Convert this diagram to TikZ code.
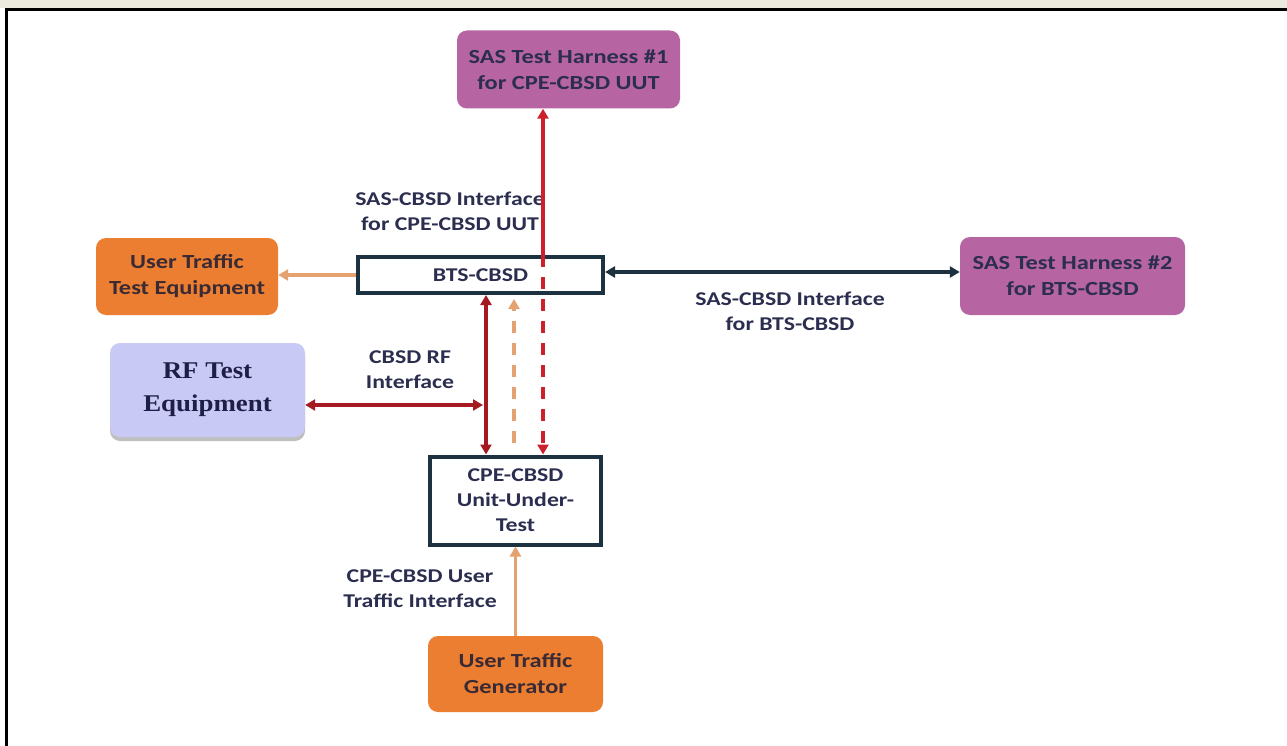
\documentclass[tikz,border=0pt]{standalone}
\usepackage{fontspec}
\usetikzlibrary{arrows.meta,shadows}
\newfontfamily\labfont{Carlito}[FakeStretch=1.22]
\newfontfamily\rffont{Liberation Serif}[FakeStretch=1.12]
\definecolor{purp}{RGB}{182,100,162}
\definecolor{orng}{RGB}{236,126,50}
\definecolor{lorng}{RGB}{228,162,112}
\definecolor{dred}{RGB}{165,26,32}
\definecolor{rred}{RGB}{205,32,45}
\definecolor{navy}{RGB}{28,50,64}
\definecolor{lav}{RGB}{201,201,246}
\definecolor{txt}{RGB}{44,46,80}
\definecolor{beige}{RGB}{236,233,222}
\tikzset{
  lbl/.style={font=\labfont\bfseries\fontsize{19.5}{25}\selectfont, text=txt, align=center},
  rbox/.style={lbl, rounded corners=10pt, draw=none, inner sep=0pt},
  purpbox/.style={rbox, fill=purp, font=\labfont\bfseries\fontsize{20}{26}\selectfont},
  orngbox/.style={rbox, fill=orng, text={rgb,255:red,58;green,42;blue,52}, font=\labfont\bfseries\fontsize{20}{26}\selectfont},
  sqbox/.style={lbl, draw=navy, line width=4pt, fill=white, inner sep=0pt},
  tip/.style={-{Triangle[length=10pt,width=11pt]}},
  dtip/.style={{Triangle[length=10pt,width=11pt]}-{Triangle[length=10pt,width=11pt]}},
}
\begin{document}
\begin{tikzpicture}[x=1pt,y=-1pt]
\useasboundingbox (0,0) rectangle (1287,746);
\fill[white] (0,0) rectangle (1287,746);
\fill[beige] (0,0) rectangle (1287,8);
\draw[line width=3pt] (6,746) -- (6,9.5) -- (1287,9.5);
% nodes
\node[purpbox, minimum width=223pt, minimum height=78pt] (sas1) at (568.5,69.5) {SAS Test Harness \#1\\for CPE-CBSD UUT};
\node[orngbox, minimum width=182pt, minimum height=77pt] (ute) at (187,276.5) {User Traffic\\Test Equipment};
\node[sqbox, minimum width=245pt, minimum height=36pt] (bts) at (480.5,275) {BTS-CBSD};
\node[purpbox, minimum width=225pt, minimum height=78pt] (sas2) at (1072.5,276) {SAS Test Harness \#2\\for BTS-CBSD};
\node[rbox, fill=lav, minimum width=195pt, minimum height=94pt, font=\rffont\bfseries\fontsize{24}{33}\selectfont, text={rgb,255:red,30;green,30;blue,70},
  drop shadow={shadow xshift=0pt, shadow yshift=-4pt, fill=gray, opacity=0.5}] (rf) at (207.5,390) {RF Test\\Equipment};
\node[sqbox, minimum width=171pt, minimum height=88pt] (cpe) at (515.5,500.5) {CPE-CBSD\\Unit-Under-\\Test};
\node[orngbox, minimum width=175pt, minimum height=76pt] (utg) at (515.5,674) {User Traffic\\Generator};
% labels
\node[lbl] (l1) at (450,211) {SAS-CBSD Interface\\for CPE-CBSD UUT};
\node[lbl] (l2) at (790,311) {SAS-CBSD Interface\\for BTS-CBSD};
\node[lbl] (l3) at (410,370) {CBSD RF\\Interface};
\node[lbl] (l4) at (420,589) {CPE-CBSD User\\Traffic Interface};
% helper x positions
\coordinate (xa) at (486,405);
\coordinate (xb) at (514,0);
\coordinate (xc) at (543,0);
% connectors
\draw[tip, lorng, line width=3.5pt] (bts.west) -- (bts.west -| ute.east);
\draw[dtip, navy, line width=3.5pt] ([yshift=3pt]bts.east) -- ([yshift=3pt]bts.east -| sas2.west);
\draw[dtip, dred, line width=3.5pt] (xa -| rf.east) -- ([xshift=-3pt]xa);
\draw[dtip, dred, line width=3.5pt] (bts.south -| xa) -- (cpe.north -| xa);
\draw[tip, lorng, line width=3.5pt, dash pattern=on 12pt off 10pt] ([yshift=12pt]cpe.north -| xb) -- ([yshift=-4pt]bts.south -| xb);
\draw[tip, rred, line width=3.5pt] (bts.north -| xc) -- (sas1.south -| xc);
\draw[tip, rred, line width=3.5pt, dash pattern=on 12pt off 10pt] (bts.north -| xc) -- (cpe.north -| xc);
\draw[tip, lorng, line width=3.5pt] (utg.north) -- (cpe.south);
\end{tikzpicture}
\end{document}
